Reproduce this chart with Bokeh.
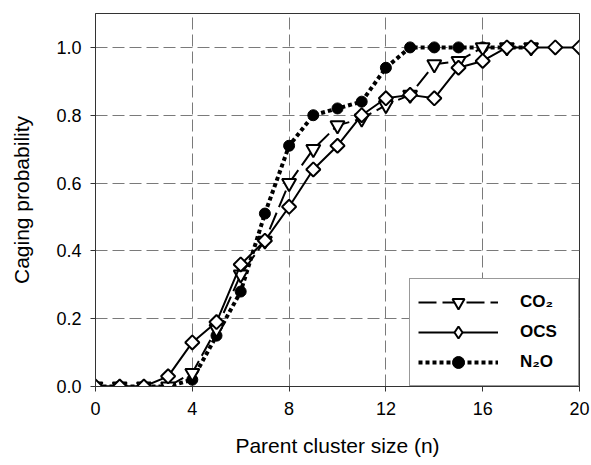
import math
from bokeh.plotting import figure
from bokeh.models import FixedTicker, PrintfTickFormatter, Legend, LegendItem, Range1d
from bokeh.embed import file_html
from bokeh.resources import INLINE

# ---- data ----
n_co2 = list(range(0, 19))
co2 = [0, 0, 0, 0, 0.04, 0.17, 0.33, 0.43, 0.60, 0.70, 0.77, 0.79, 0.83, 0.86, 0.95, 0.96, 1.0, 1.0, 1.0]
n_ocs = list(range(0, 21))
ocs = [0, 0, 0, 0.03, 0.13, 0.19, 0.36, 0.43, 0.53, 0.64, 0.71, 0.80, 0.85, 0.86, 0.85, 0.94, 0.96, 1.0, 1.0, 1.0, 1.0]
n_n2o = list(range(0, 19))
n2o = [0, 0, 0, 0, 0.02, 0.15, 0.28, 0.51, 0.71, 0.80, 0.82, 0.84, 0.94, 1.0, 1.0, 1.0, 1.0, 1.0, 1.0]
x_ticks = [0, 4, 8, 12, 16, 20]
y_ticks = [0.0, 0.2, 0.4, 0.6, 0.8, 1.0]
labels = ["CO\u2082", "OCS", "N\u2082O"]

FONT = "Liberation Sans"

p = figure(width=591, height=465, output_backend="svg", toolbar_location=None,
           x_range=Range1d(0, 20), y_range=Range1d(0, 1.1),
           min_border_left=95, min_border_right=12, min_border_top=13, min_border_bottom=79)
p.background_fill_color = "white"
p.outline_line_color = "#333333"
p.outline_line_width = 1

# axes
p.xaxis.ticker = FixedTicker(ticks=x_ticks)
p.yaxis.ticker = FixedTicker(ticks=y_ticks)
p.yaxis.formatter = PrintfTickFormatter(format="%.1f")
for ax in (p.xaxis[0], p.yaxis[0]):
    ax.major_label_text_font = FONT
    ax.major_label_text_font_size = "18px"
    ax.major_label_text_color = "black"
    ax.axis_label_text_font = FONT
    ax.axis_label_text_font_size = "21px"
    ax.axis_label_text_font_style = "normal"
    ax.axis_label_text_color = "black"
    ax.minor_tick_line_color = None
    ax.major_tick_in = 0
    ax.major_tick_out = 5
    ax.major_tick_line_color = "#333333"
    ax.axis_line_color = "#333333"
p.xaxis.axis_label = "Parent cluster size (n)"
p.yaxis.axis_label = "Caging probability"
p.xaxis.major_label_standoff = 10
p.xaxis.axis_label_standoff = 16
p.yaxis.major_label_standoff = 9
p.yaxis.axis_label_standoff = 20

# grid
p.xgrid.ticker = FixedTicker(ticks=[4, 8, 12, 16])
p.ygrid.ticker = FixedTicker(ticks=[0.2, 0.4, 0.6, 0.8, 1.0])
for g in (p.xgrid[0], p.ygrid[0]):
    g.grid_line_color = "#7a7a7a"
    g.grid_line_dash = "12 5"
    g.grid_line_width = 1

# series
l_n2o = p.line(n_n2o, n2o, line_color="black", line_width=4, line_dash="4 3")
m_n2o = p.scatter(n_n2o, n2o, marker="circle", size=11, fill_color="black", line_color="black")

l_co2 = p.line(n_co2, co2, line_color="black", line_width=2, line_dash="18 6")
m_co2 = p.scatter(n_co2, co2, marker="inverted_triangle", size=14, fill_color="white",
                  line_color="black", line_width=2)

l_ocs = p.line(n_ocs, ocs, line_color="black", line_width=2)
m_ocs = p.scatter(n_ocs, ocs, marker="square", angle=math.pi / 4, size=10, fill_color="white",
                  line_color="black", line_width=2)
# zero-size diamond on the same OCS points: only its legend swatch is visible
k_ocs = p.scatter(n_ocs, ocs, marker="diamond", size=0, fill_color="white",
                  line_color="black", line_width=2)

legend = Legend(items=[
    LegendItem(label=labels[0], renderers=[l_co2, m_co2]),
    LegendItem(label=labels[1], renderers=[l_ocs, k_ocs]),
    LegendItem(label=labels[2], renderers=[l_n2o, m_n2o]),
], location="bottom_right")
legend.margin = 0
legend.padding = 8
legend.spacing = 0
legend.glyph_width = 80
legend.glyph_height = 30
legend.label_standoff = 22
legend.label_width = 50
legend.label_text_font = FONT
legend.label_text_font_size = "17px"
legend.label_text_font_style = "bold"
legend.label_text_color = "black"
legend.border_line_color = "#333333"
legend.border_line_width = 1
legend.background_fill_alpha = 1
p.add_layout(legend, "center")

open("out.html", "w").write(file_html(p, INLINE))
